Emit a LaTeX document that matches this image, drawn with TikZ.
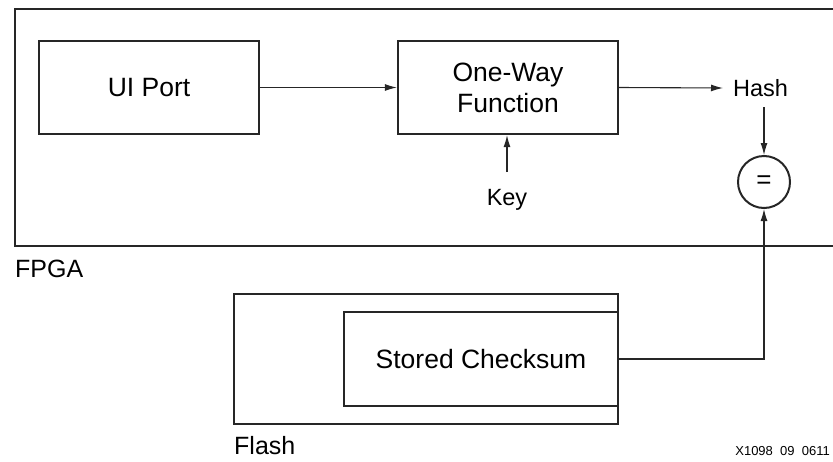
\documentclass[tikz,border=0pt]{standalone}
\usepackage{fontspec}
\setmainfont{Liberation Sans}
\usetikzlibrary{arrows.meta}
\tikzset{
  box/.style={draw=black!85, line width=2.2pt, minimum width=220pt, minimum height=93pt, align=center, font=\fontsize{26.5}{31}\selectfont},
  link/.style={draw=black!85, line width=1.1pt, -{Latex[length=12pt,width=7pt]}},
  small/.style={font=\fontsize{23.5}{26}\selectfont},
  tag/.style={font=\fontsize{25}{28}\selectfont, anchor=north west, inner sep=0pt}
}
\begin{document}
\begin{tikzpicture}[x=1pt,y=-1pt]
  \useasboundingbox (0,0) rectangle (833,461);
  % FPGA frame, open to the right
  \draw[black!85, line width=2.4pt] (833,9) -| (15,246) -- (833,246);
  \node[tag] (fpga) at (15,260) {FPGA};

  \node[box] (ui) at (149,87.5) {UI Port};
  \node[box] (owf) at (508,87.5) {One-Way\\Function};
  \node[small, anchor=west, inner sep=0pt] (hash) at (733,88) {Hash};
  \node[small, inner sep=0pt] (key) at (507,200) {Key};
  \node[draw=black!85, line width=2pt, circle, minimum size=52pt, inner sep=0pt,
        font=\fontsize{26}{28}\selectfont] (eq) at (764,182) {=};
  \coordinate (hashbot) at (764,107);
  \coordinate (keytop) at (507,172);

  % Flash and the stored checksum
  \node[box, minimum width=384pt, minimum height=130pt] (flash) at (426,359) {};
  \node[box, minimum width=274pt, minimum height=94pt] (sum) at (481,359) {Stored Checksum};
  \node[tag] (flashlbl) at (234,436) {Flash};
  \node[anchor=south east, inner sep=0pt, font=\fontsize{13}{14}\selectfont] (code) at (830,456) {X1098\ \ 09\ \ 0611};

  \draw[link] (ui) -- (owf);
  \draw[link] (owf.east) -- ([xshift=-10pt]hash.west);
  \draw[link] (hashbot) -- (eq);
  \draw[link] (keytop) -- (owf.south -| keytop);
  \draw[link] (sum.east) -| (eq.south);
\end{tikzpicture}
\end{document}
